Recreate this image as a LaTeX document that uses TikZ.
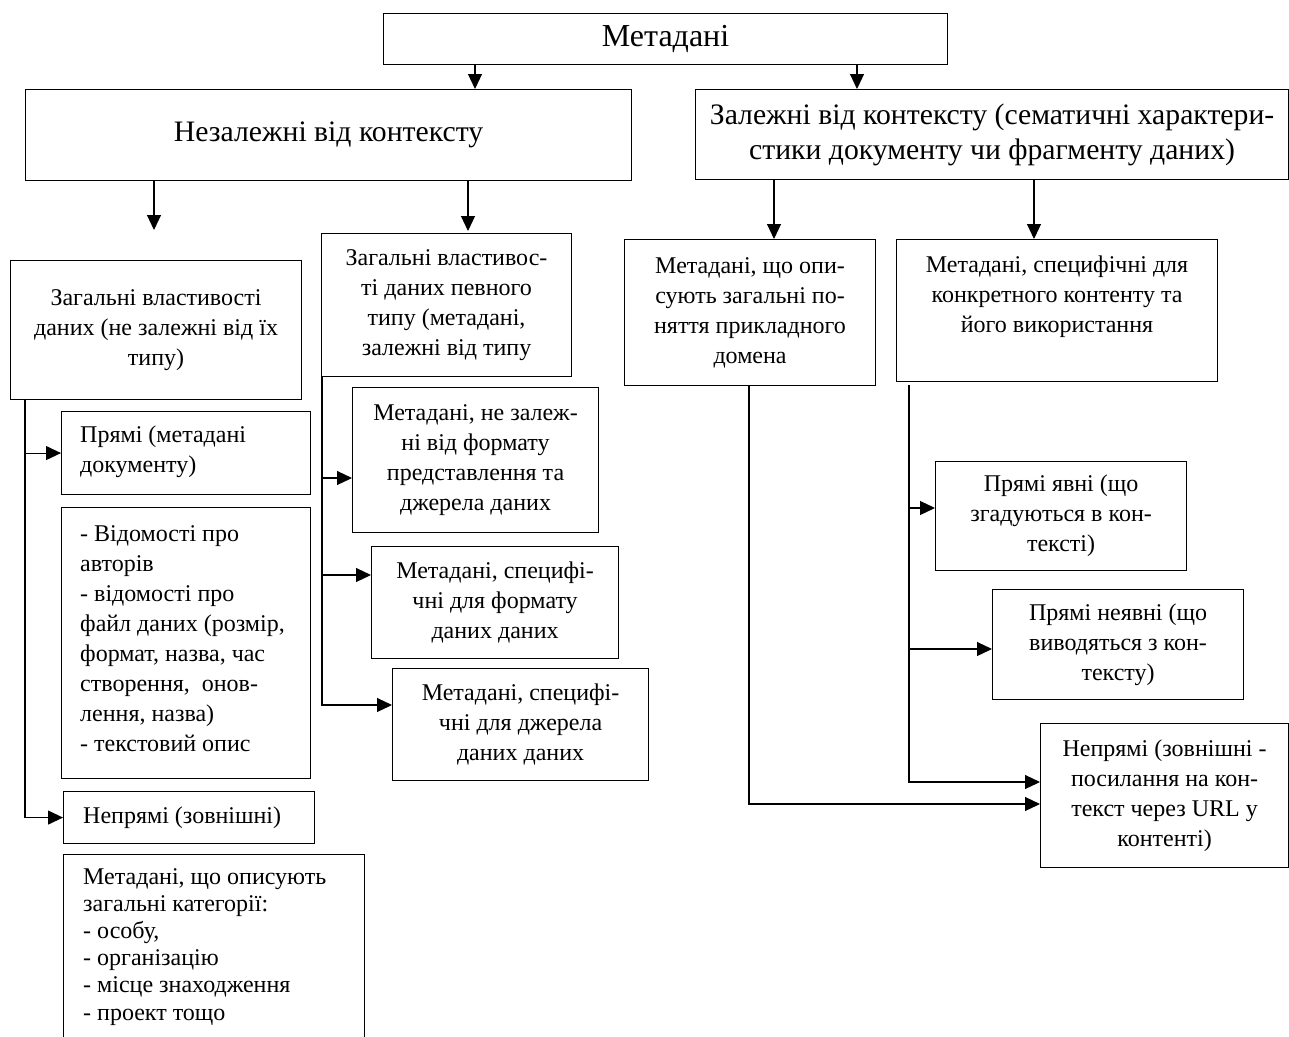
\documentclass[tikz,border=0pt]{standalone}
\usepackage{fontspec}
\setmainfont{Liberation Serif}
\usetikzlibrary{arrows.meta,calc}
\begin{document}
\begin{tikzpicture}[x=1pt,y=-1pt,
  box/.style={draw, line width=1.1pt, inner sep=0pt, anchor=north west, align=center, font=\fontsize{24}{30}\selectfont},
  bigbox/.style={box, font=\fontsize{29.7}{35}\selectfont},
  ln/.style={line width=1.1pt},
  arr/.style={ln, -{Triangle[length=15pt,width=14pt]}},
  txt/.style={inner sep=0pt, align=left, font=\fontsize{24}{30}\selectfont}]

\useasboundingbox[fill=white] (0,0) rectangle (1289,1036);
\clip (0,0) rectangle (1289,1036);

% top level
\node[bigbox, minimum width=564, minimum height=51, font=\fontsize{32}{36}\selectfont] (top) at (383,13) {Метадані};
\node[bigbox, minimum width=606, minimum height=91] (ind) at (25,89) {Незалежні від контексту};
\node[bigbox, minimum width=593, minimum height=90] (dep) at (695,89) {Залежні від контексту (сематичні характери-\\стики документу чи фрагменту даних)};

% second level
\node[box, minimum width=291, minimum height=139] (gen) at (10,260) {Загальні властивості\\даних (не залежні від їх\\типу)};
\node[box, minimum width=250, minimum height=143] (typ) at (321,233) {Загальні властивос-\\ті даних певного\\типу (метадані,\\залежні від типу};
\node[box, minimum width=251, minimum height=146] (dom) at (624,239) {Метадані, що опи-\\сують загальні по-\\няття прикладного\\домена};
\node[box, minimum width=321, minimum height=142] (spec) at (896,239) {};
\node[txt, align=center, anchor=north] (specT) at ($(spec.north)+(0,17)$) {Метадані, специфічні для\\конкретного контенту та\\його використання};

% left column
\node[box, minimum width=249, minimum height=83] (pd) at (61,411) {};
\node[txt, anchor=west] (pdT) at ($(pd.west)+(19,-1)$) {Прямі (метадані\\документу)};
\node[box, minimum width=249, minimum height=271] (lst) at (61,507) {};
\node[txt, anchor=west] (lstT) at ($(lst.west)+(19,-4)$) {- Відомості про\\авторів\\- відомості про\\файл даних (розмір,\\формат, назва, час\\створення,~ онов-\\лення, назва)\\- текстовий опис};
\node[box, minimum width=251, minimum height=52] (ind2) at (63,791) {};
\node[txt, anchor=west] (ind2T) at ($(ind2.west)+(20,0)$) {Непрямі (зовнішні)};
\node[box, minimum width=301, minimum height=200] (cat) at (63,854) {};
\node[txt, anchor=north west, font=\fontsize{24}{27.2}\selectfont] (catT) at ($(cat.north west)+(20,14)$) {Метадані, що описують\\загальні категорії:\\- особу,\\- організацію\\- місце знаходження\\- проект тощо};

% middle column
\node[box, minimum width=246, minimum height=145] (fmt0) at (352,387) {Метадані, не залеж-\\ні від формату\\представлення та\\джерела даних};
\node[box, minimum width=247, minimum height=112] (fmt) at (371,546) {Метадані, специфі-\\чні для формату\\даних даних};
\node[box, minimum width=256, minimum height=112] (src) at (392,668) {Метадані, специфі-\\чні для джерела\\даних даних};

% right column
\node[box, minimum width=251, minimum height=109] (exp) at (935,461) {Прямі явні (що\\згадуються в кон-\\тексті)};
\node[box, minimum width=251, minimum height=110] (imp) at (992,589) {Прямі неявні (що\\виводяться з кон-\\тексту)};
\node[box, minimum width=248, minimum height=144] (ext) at (1040,723) {Непрямі (зовнішні -\\посилання на кон-\\текст через URL у\\контенті)};

% helper coordinates
\coordinate (xa) at (475,0);
\coordinate (xb) at (857,0);
\coordinate (ta) at (154,230);
\coordinate (tb) at (468,231);
\coordinate (xc) at (774,0);
\coordinate (xd) at (1034,0);
\coordinate (gx) at (25,0);
\coordinate (tx) at (322,0);
\coordinate (y1) at (0,478);
\coordinate (y2) at (0,575);
\coordinate (y3) at (0,705);
\coordinate (dx) at (749,0);
\coordinate (y4) at (0,804);
\coordinate (s0) at (909,385);
\coordinate (y5) at (0,782);
\coordinate (y6) at (0,508);
\coordinate (y7) at (0,649);

% connectors
\draw[arr] (top.south -| xa) -- (ind.north -| xa);
\draw[arr] (top.south -| xb) -- (dep.north -| xb);
\draw[arr] (ind.south -| ta) -- (ta);
\draw[arr] (ind.south -| tb) -- (tb);
\draw[arr] (dep.south -| xc) -- (dom.north -| xc);
\draw[arr] (dep.south -| xd) -- (spec.north -| xd);

\draw[arr] (gen.south -| gx) |- (ind2.west);
\draw[arr] (pd.west -| gx) -- (pd.west);

\draw[arr] (typ.south -| tx) |- (src.west |- y3);
\draw[arr] (tx |- y1) -- (fmt0.west |- y1);
\draw[arr] (tx |- y2) -- (fmt.west |- y2);

\draw[arr] (dom.south -| dx) |- (ext.west |- y4);
\draw[arr] (s0) |- (ext.west |- y5);
\draw[arr] (s0 |- y6) -- (exp.west |- y6);
\draw[arr] (s0 |- y7) -- (imp.west |- y7);
\end{tikzpicture}
\end{document}
